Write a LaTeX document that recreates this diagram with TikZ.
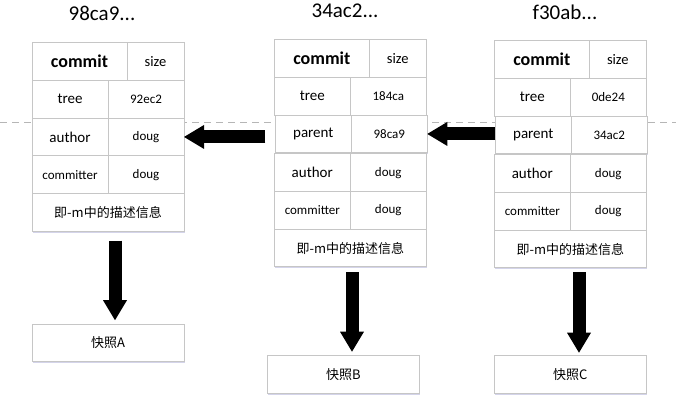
\documentclass[tikz,border=0pt]{standalone}
\usepackage{fontspec}
\setmainfont{Carlito}
\newfontfamily\cjk{Noto Sans CJK SC}
\usepackage{xcolor}
\usepackage{tikz}
\usetikzlibrary{positioning, shadows}
\usetikzlibrary{arrows.meta}
\tikzset{>={Triangle[width=24pt,length=20pt,line width=0pt]}}
\definecolor{cellgray}{RGB}{198,198,198}
\definecolor{dashgray}{RGB}{182,182,182}

\begin{document}
\begin{tikzpicture}[x=1pt, y=1pt, cell/.style={draw=cellgray, fill=white, line width=1pt, inner sep=0pt, outer sep=0pt, minimum width=76pt, minimum height=37.7pt, font=\fontsize{13}{15}\selectfont, drop shadow={shadow xshift=1pt, shadow yshift=-1.5pt, fill=blue!35!gray, opacity=0.25}}, keycell/.style={cell, font=\fontsize{15}{18}\selectfont}, headcell/.style={cell, minimum width=95pt, font=\fontsize{18}{21}\selectfont\bfseries}, sizecell/.style={cell, minimum width=57pt, font=\fontsize{14.5}{17}\selectfont}, desccell/.style={cell, minimum width=152pt, font=\cjk\fontsize{13}{15}\selectfont}, title/.style={font=\fontsize{21}{25}\selectfont}, guide/.style={draw=dashgray, line width=1pt, dash pattern=on 7pt off 5pt}, bigarrow/.style={->, line width=13pt}]
    \useasboundingbox (0,0) rectangle (676,-414);

    %Guide line
    \coordinate (guideL) at (0,-122.5);
    \coordinate (guideR) at (676,-122.5);
    \draw[guide] (guideL) -- (guideR);

    %Nodes
    \node[title](h1) at (102,-13.5){98ca9...};
    \node[headcell, anchor=north west](c1commit) at (32,-42.7){commit};
    \node[sizecell](c1size)[right=0pt of c1commit]{size};
    \node[keycell](c1tree)[below right=0pt and 0pt of c1commit.south west]{tree};
    \node[cell](c1treev)[right=0pt of c1tree]{92ec2};
    \node[keycell](c1author)[below=0pt of c1tree]{author};
    \node[cell](c1authorv)[right=0pt of c1author]{doug};
    \node[cell](c1committer)[below=0pt of c1author]{committer};
    \node[cell](c1committerv)[right=0pt of c1committer]{doug};
    \node[desccell](c1desc)[below right=0pt and 0pt of c1committer.south west]{即-m中的描述信息};
    \node[desccell](snapA)[below=93pt of c1desc]{快照A};

    \node[title](h2) at (345,-11){34ac2...};
    \node[headcell, anchor=north west](c2commit) at (274.3,-39.7){commit};
    \node[sizecell](c2size)[right=0pt of c2commit]{size};
    \node[keycell](c2tree)[below right=0pt and 0pt of c2commit.south west]{tree};
    \node[cell](c2treev)[right=0pt of c2tree]{184ca};
    \node[keycell](c2parent)[below right=0pt and 1pt of c2tree.south west]{parent};
    \node[cell](c2parentv)[right=0pt of c2parent]{98ca9};
    \node[keycell](c2author)[below right=1pt and -1pt of c2parent.south west]{author};
    \node[cell](c2authorv)[right=0pt of c2author]{doug};
    \node[cell](c2committer)[below=0pt of c2author]{committer};
    \node[cell](c2committerv)[right=0pt of c2committer]{doug};
    \node[desccell](c2desc)[below right=0pt and 0pt of c2committer.south west]{即-m中的描述信息};
    \node[desccell](snapB)[below=88.8pt of c2desc, xshift=-7pt]{快照B};

    \node[title](h3) at (565,-12.5){f30ab...};
    \node[headcell, anchor=north west](c3commit) at (494.3,-40.7){commit};
    \node[sizecell](c3size)[right=0pt of c3commit]{size};
    \node[keycell](c3tree)[below right=0pt and 0pt of c3commit.south west]{tree};
    \node[cell](c3treev)[right=0pt of c3tree]{0de24};
    \node[keycell](c3parent)[below right=0pt and 1pt of c3tree.south west]{parent};
    \node[cell](c3parentv)[right=0pt of c3parent]{34ac2};
    \node[keycell](c3author)[below right=1pt and -1pt of c3parent.south west]{author};
    \node[cell](c3authorv)[right=0pt of c3author]{doug};
    \node[cell](c3committer)[below=0pt of c3author]{committer};
    \node[cell](c3committerv)[right=0pt of c3committer]{doug};
    \node[desccell](c3desc)[below right=0pt and 0pt of c3committer.south west]{即-m中的描述信息};
    \node[desccell](snapC)[below=87.8pt of c3desc]{快照C};

    %Lines
    \draw[bigarrow] ([xshift=-10pt]c2parent.west |- c1authorv.east) -- (c1authorv.east);
    \draw[bigarrow] (c3parent.west |- c2parentv.east) -- (c2parentv.east);
    \draw[bigarrow] ([xshift=7pt, yshift=-9.5pt]c1desc.south) -- ([xshift=7pt, yshift=4pt]snapA.north);
    \draw[bigarrow] ([xshift=1.7pt, yshift=-5.4pt]c2desc.south) -- ([xshift=8.7pt, yshift=4pt]snapB.north);
    \draw[bigarrow] ([xshift=8.7pt, yshift=-4.4pt]c3desc.south) -- ([xshift=8.7pt, yshift=3pt]snapC.north);

\end{tikzpicture}
\end{document}
